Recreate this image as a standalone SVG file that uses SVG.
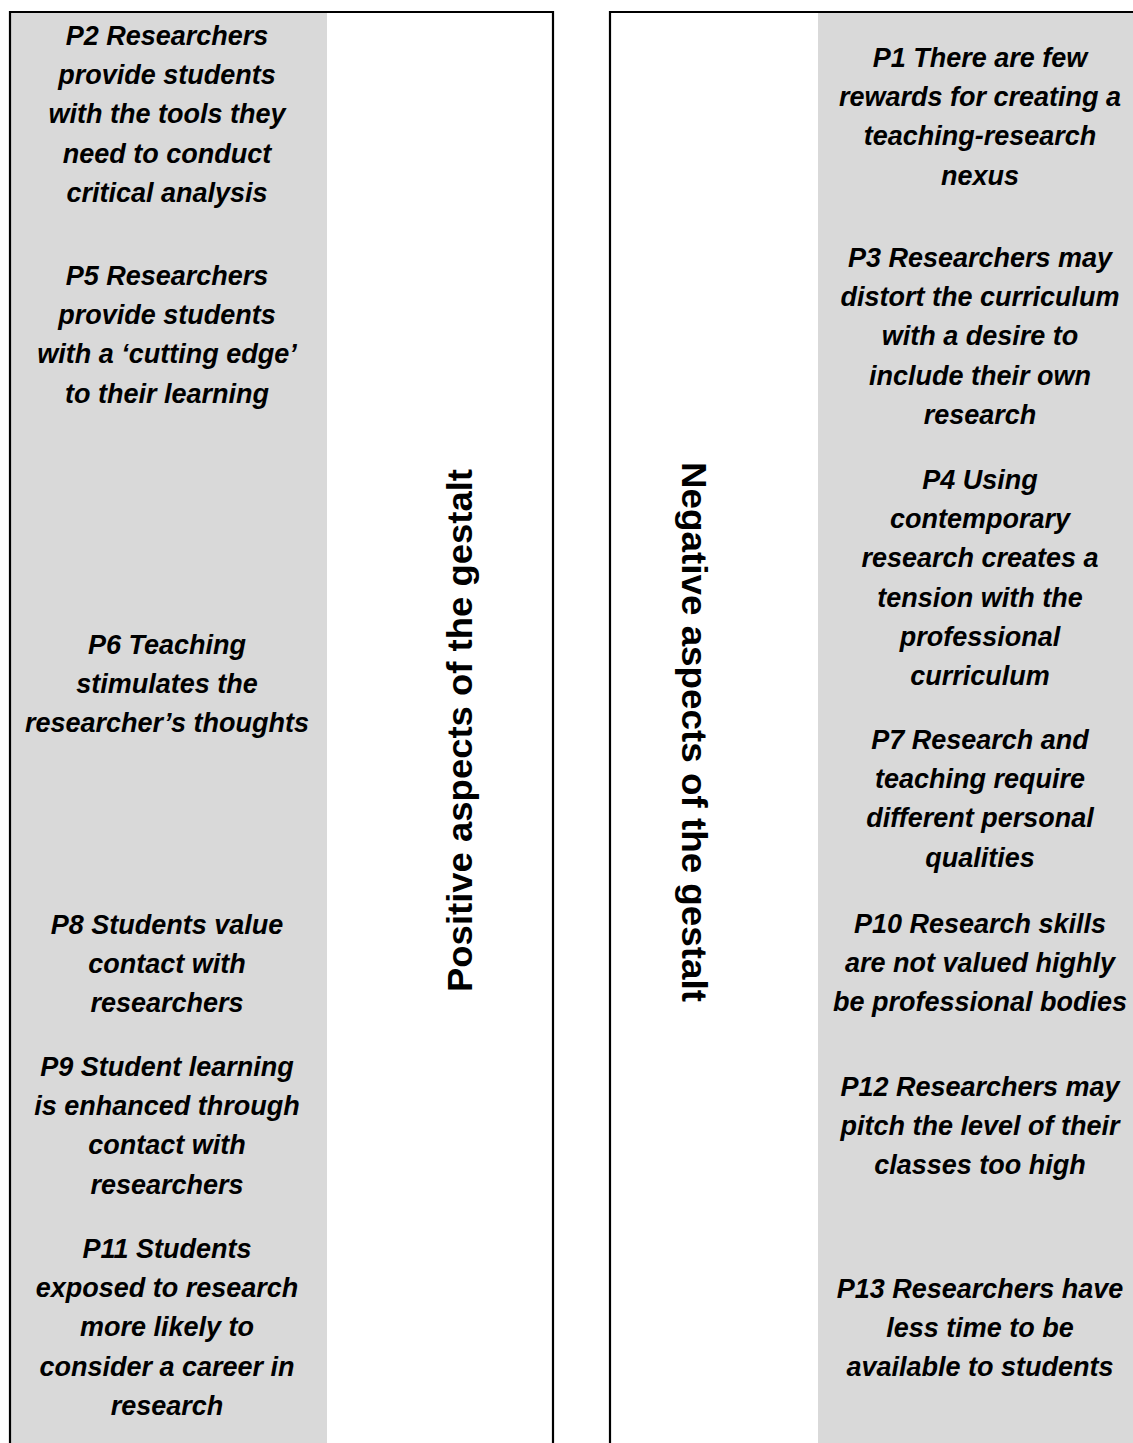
<svg xmlns="http://www.w3.org/2000/svg" width="1133" height="1443" viewBox="0 0 1133 1443">
<style>
.bg{fill:#ffffff}
.panel{fill:#d9d9d9}
.frame{fill:none;stroke:#000000;stroke-width:2.2}
.item{font-family:"Liberation Sans",Arial,sans-serif;font-size:27px;font-weight:bold;font-style:italic;fill:#000000;text-anchor:middle}
.title{font-family:"Liberation Sans",Arial,sans-serif;font-size:35px;font-weight:bold;fill:#000000;text-anchor:middle}
</style>
<rect class="bg" x="0" y="0" width="1133" height="1443"/>
<g id="positive-column">
<rect class="panel" x="11" y="13" width="316" height="1430"/>
<path class="frame" d="M10,1443 V12 H553 V1443"/>
</g>
<g id="negative-column">
<rect class="panel" x="818" y="13" width="315" height="1430"/>
<path class="frame" d="M610,1443 V12 H1134"/>
</g>
<g id="title-positive"><text class="title" transform="translate(472,730.5) rotate(-90)" textLength="523" lengthAdjust="spacingAndGlyphs">Positive aspects of the gestalt</text></g>
<g id="title-negative"><text class="title" transform="translate(682,732) rotate(90)" textLength="540" lengthAdjust="spacingAndGlyphs">Negative aspects of the gestalt</text></g>

<g id="p2"><text class="item" x="167" y="45"><tspan x="167">P2 Researchers</tspan><tspan x="167" dy="39.2">provide students</tspan><tspan x="167" dy="39.2">with the tools they</tspan><tspan x="167" dy="39.2">need to conduct</tspan><tspan x="167" dy="39.2">critical analysis</tspan></text></g>
<g id="p5"><text class="item" x="167" y="285"><tspan x="167">P5 Researchers</tspan><tspan x="167" dy="39.2">provide students</tspan><tspan x="167" dy="39.2">with a ‘cutting edge’</tspan><tspan x="167" dy="39.2">to their learning</tspan></text></g>
<g id="p6"><text class="item" x="167" y="654"><tspan x="167">P6 Teaching</tspan><tspan x="167" dy="39.2">stimulates the</tspan><tspan x="167" dy="39.2">researcher’s thoughts</tspan></text></g>
<g id="p8"><text class="item" x="167" y="934"><tspan x="167">P8 Students value</tspan><tspan x="167" dy="39.2">contact with</tspan><tspan x="167" dy="39.2">researchers</tspan></text></g>
<g id="p9"><text class="item" x="167" y="1076"><tspan x="167">P9 Student learning</tspan><tspan x="167" dy="39.2">is enhanced through</tspan><tspan x="167" dy="39.2">contact with</tspan><tspan x="167" dy="39.2">researchers</tspan></text></g>
<g id="p11"><text class="item" x="167" y="1258"><tspan x="167">P11 Students</tspan><tspan x="167" dy="39.2">exposed to research</tspan><tspan x="167" dy="39.2">more likely to</tspan><tspan x="167" dy="39.2">consider a career in</tspan><tspan x="167" dy="39.2">research</tspan></text></g>

<g id="p1"><text class="item" x="980" y="67"><tspan x="980">P1 There are few</tspan><tspan x="980" dy="39.2">rewards for creating a</tspan><tspan x="980" dy="39.2">teaching-research</tspan><tspan x="980" dy="39.2">nexus</tspan></text></g>
<g id="p3"><text class="item" x="980" y="267"><tspan x="980">P3 Researchers may</tspan><tspan x="980" dy="39.2">distort the curriculum</tspan><tspan x="980" dy="39.2">with a desire to</tspan><tspan x="980" dy="39.2">include their own</tspan><tspan x="980" dy="39.2">research</tspan></text></g>
<g id="p4"><text class="item" x="980" y="489"><tspan x="980">P4 Using</tspan><tspan x="980" dy="39.2">contemporary</tspan><tspan x="980" dy="39.2">research creates a</tspan><tspan x="980" dy="39.2">tension with the</tspan><tspan x="980" dy="39.2">professional</tspan><tspan x="980" dy="39.2">curriculum</tspan></text></g>
<g id="p7"><text class="item" x="980" y="749"><tspan x="980">P7 Research and</tspan><tspan x="980" dy="39.2">teaching require</tspan><tspan x="980" dy="39.2">different personal</tspan><tspan x="980" dy="39.2">qualities</tspan></text></g>
<g id="p10"><text class="item" x="980" y="933"><tspan x="980">P10 Research skills</tspan><tspan x="980" dy="39.2">are not valued highly</tspan><tspan x="980" dy="39.2">be professional bodies</tspan></text></g>
<g id="p12"><text class="item" x="980" y="1096"><tspan x="980">P12 Researchers may</tspan><tspan x="980" dy="39.2">pitch the level of their</tspan><tspan x="980" dy="39.2">classes too high</tspan></text></g>
<g id="p13"><text class="item" x="980" y="1298"><tspan x="980">P13 Researchers have</tspan><tspan x="980" dy="39.2">less time to be</tspan><tspan x="980" dy="39.2">available to students</tspan></text></g>
<g id="connectors"></g>
</svg>
